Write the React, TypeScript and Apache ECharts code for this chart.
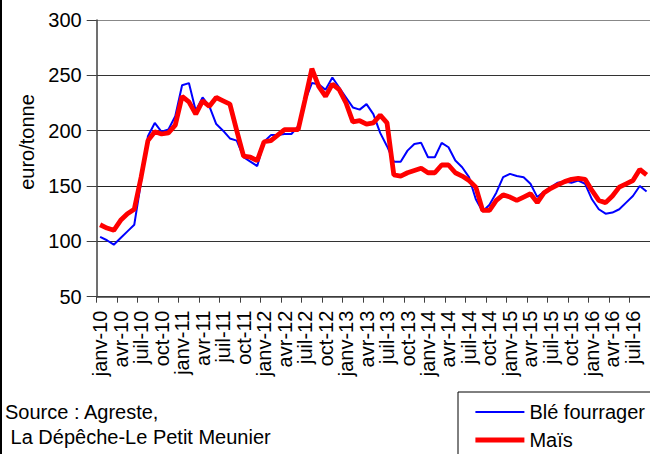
import React, { useEffect, useRef } from "react";
import * as echarts from "echarts";

const monthNames = ["janv", "févr", "mars", "avr", "mai", "juin", "juil", "août", "sept", "oct", "nov", "déc"];
const years = ["10", "11", "12", "13", "14", "15", "16"];
const monthCount = 81; // janv-10 .. sept-16

const ble = [
  104, 101, 97, 103, 109, 115, 154, 195, 207, 199, 201, 213,
  241, 243, 218, 230, 222, 206, 200, 193, 191, 176, 172, 168,
  190, 196, 196, 197, 197, 204, 227, 243, 242, 237, 248, 239,
  230, 221, 219, 224, 215, 198, 186, 172, 172, 182, 188, 189,
  176, 176, 189, 185, 173, 167, 158, 138, 127, 133, 144, 158,
  161, 159, 158, 152, 140, 145, 149, 153, 154, 153, 155, 152,
  138, 129, 125, 126, 129, 135, 141, 150, 145,
];

const mais = [
  115, 112, 110, 119, 125, 129, 158, 191, 199, 197, 198, 205,
  231, 226, 215, 227, 222, 230, 227, 224, 200, 177, 176, 173,
  190, 191, 196, 201, 201, 201, 228, 256, 240, 231, 242, 237,
  225, 208, 209, 206, 207, 214, 207, 160, 159, 162, 164, 166,
  162, 162, 169, 169, 162, 159, 155, 149, 128, 128, 137, 142,
  140, 137, 140, 143, 135, 144, 148, 151, 154, 156, 157, 156,
  146, 137, 135, 141, 149, 152, 155, 165, 160,
];

const yTicks = [50, 100, 150, 200, 250, 300];

const categories: string[] = [];
for (let i = 0; i < monthCount; i++) {
  categories.push(monthNames[i % 12] + "-" + years[Math.floor(i / 12)]);
}

const FONT = "'Liberation Sans', Arial, sans-serif";

export default function App() {
  const ref = useRef<HTMLDivElement>(null);
  useEffect(() => {
    document.body.style.margin = "0";
    const chart = echarts.init(ref.current!, null, { renderer: "svg" });
    chart.setOption({
      animation: false,
      backgroundColor: "#ffffff",
      grid: { left: 96.7, top: 20, right: -3.7, bottom: 157.3, containLabel: false },
      xAxis: {
        type: "category",
        data: categories,
        boundaryGap: true,
        axisLine: { show: true, lineStyle: { color: "#404040", width: 1.5 } },
        axisTick: { show: true, interval: 2, length: 6, lineStyle: { color: "#404040", width: 1 } },
        axisLabel: {
          interval: 2,
          rotate: 90,
          margin: 14,
          showMinLabel: true,
          color: "#000",
          fontFamily: FONT,
          fontSize: 20,
        },
        splitLine: { show: false },
      },
      yAxis: {
        type: "value",
        min: yTicks[0],
        max: yTicks[yTicks.length - 1],
        interval: 50,
        axisLine: { show: true, lineStyle: { color: "#404040", width: 1.5 } },
        axisTick: { show: true, length: 10, lineStyle: { color: "#404040", width: 1 } },
        axisLabel: { margin: 15, color: "#000", fontFamily: FONT, fontSize: 20 },
        splitLine: {
          show: true,
          lineStyle: { color: ["#333", "#333", "#222", "#333", "#333", "#888"], width: 1 },
        },
      },
      legend: {
        orient: "vertical",
        left: 458,
        top: 392,
        height: 140,
        padding: [10, 15, 10, 15],
        itemGap: 8,
        itemWidth: 49,
        itemHeight: 0.5,
        borderColor: "#000",
        borderWidth: 1,
        textStyle: { color: "#000", fontFamily: FONT, fontSize: 20 },
        data: [
          { name: "Blé fourrager", lineStyle: { width: 2, color: "#0000ff" } },
          { name: "Maïs", lineStyle: { width: 4.8, color: "#ff0000" } },
        ],
      },
      series: [
        {
          name: "Blé fourrager",
          type: "line",
          data: ble,
          symbol: "none",
          lineStyle: { color: "#0000ff", width: 2 },
          itemStyle: { color: "#0000ff" },
        },
        {
          name: "Maïs",
          type: "line",
          data: mais,
          symbol: "none",
          lineStyle: { color: "#ff0000", width: 4.8 },
          itemStyle: { color: "#ff0000" },
        },
      ],
      graphic: [
        { type: "rect", shape: { x: 0, y: 0, width: 2, height: 454 }, style: { fill: "#000" } },
        {
          type: "text",
          x: 27,
          y: 142,
          rotation: Math.PI / 2,
          style: {
            text: "euro/tonne",
            fill: "#000",
            font: "20px " + FONT,
            textAlign: "center",
            textVerticalAlign: "middle",
          },
        },
        {
          type: "text",
          x: 5,
          y: 412,
          style: {
            text: "Source : Agreste,",
            fill: "#000",
            font: "20px " + FONT,
            textAlign: "left",
            textVerticalAlign: "middle",
          },
        },
        {
          type: "text",
          x: 5,
          y: 436.5,
          style: {
            text: " La Dépêche-Le Petit Meunier",
            fill: "#000",
            font: "20px " + FONT,
            textAlign: "left",
            textVerticalAlign: "middle",
          },
        },
      ],
    });
    return () => chart.dispose();
  }, []);
  return (
    <div
      ref={ref}
      style={{ position: "absolute", left: 0, top: 0, width: 650, height: 454 }}
    />
  );
}
